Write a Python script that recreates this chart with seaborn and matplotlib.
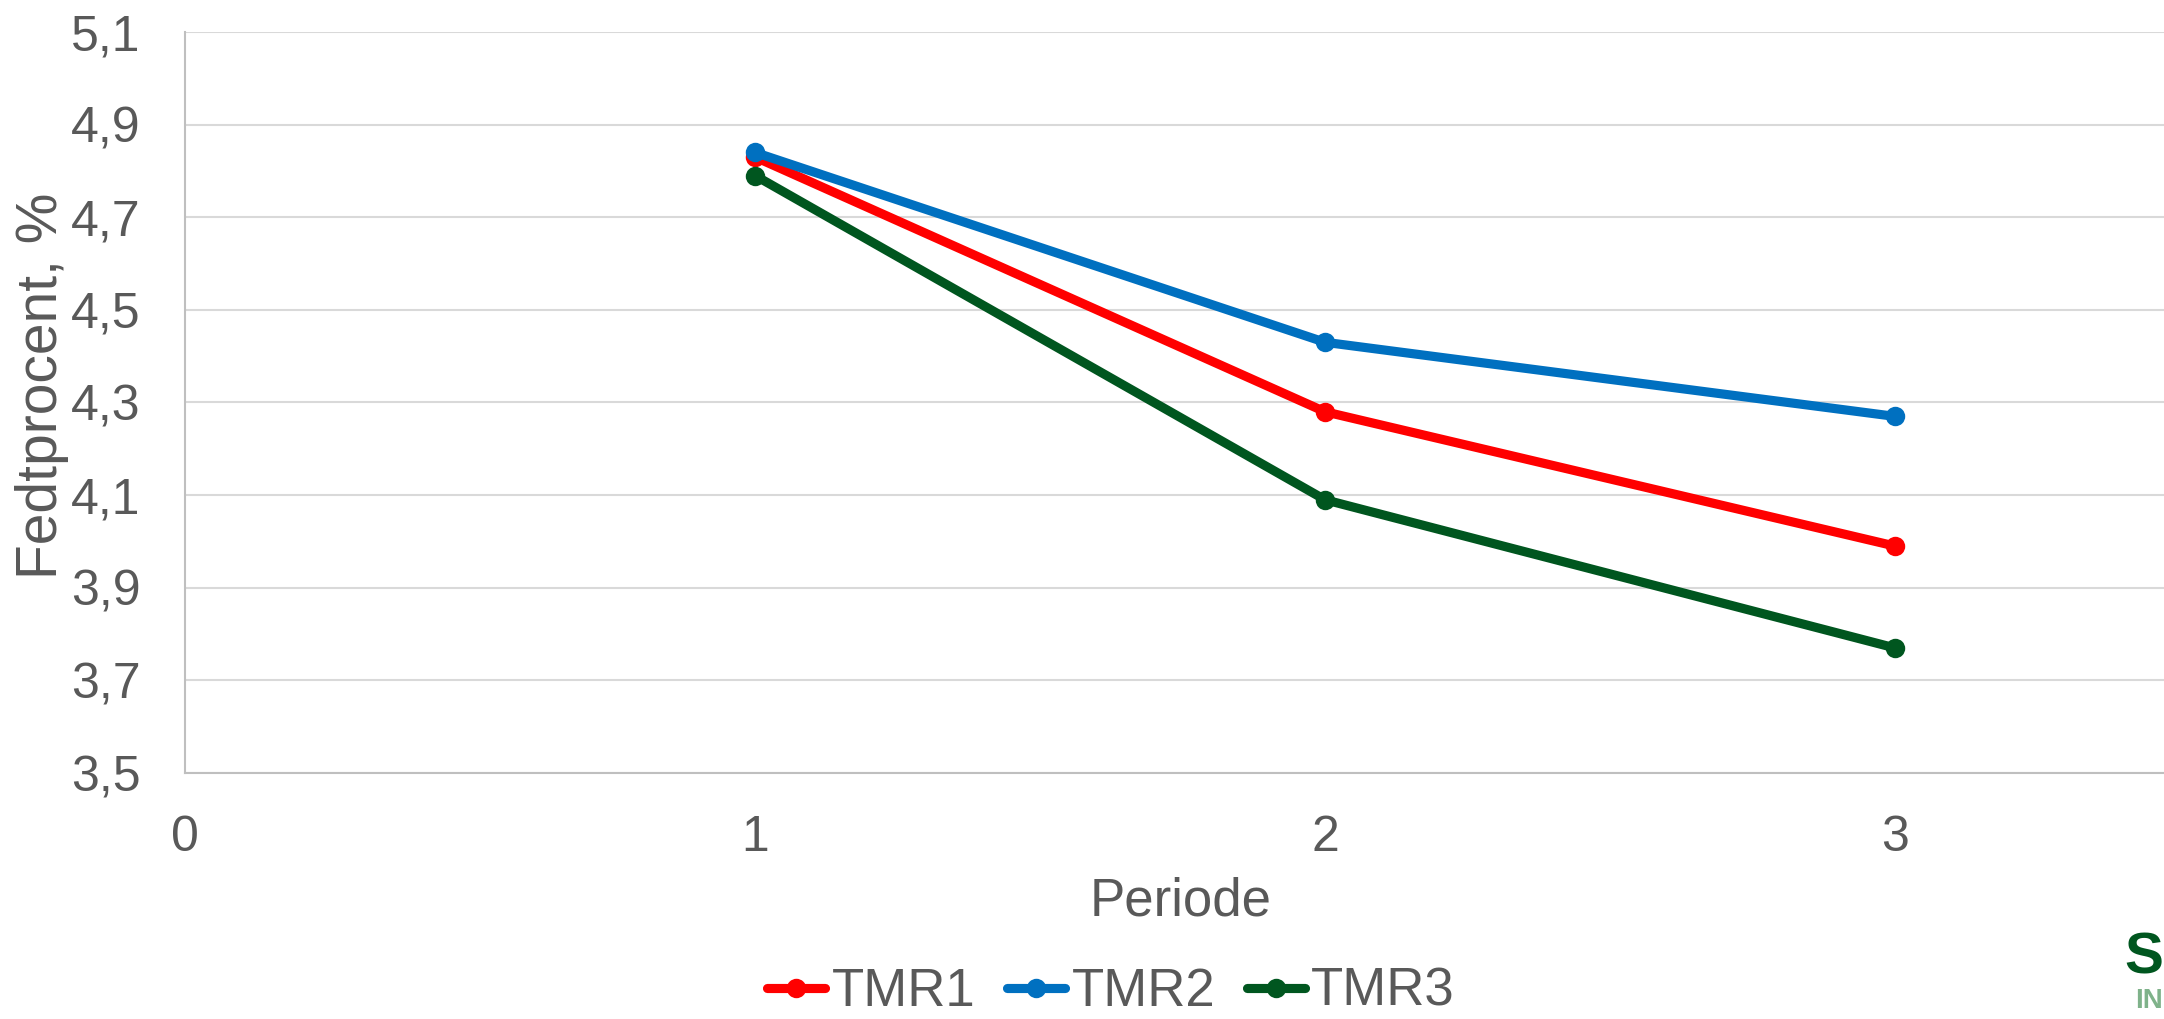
import numpy as np
import pandas as pd
import matplotlib
matplotlib.use("Agg")
import matplotlib.pyplot as plt
import seaborn as sns
from matplotlib.ticker import FixedLocator, FuncFormatter

# Fat percentage per period for each TMR ration
periods = [1, 2, 3]
tmr1 = [4.83, 4.28, 3.99]
tmr2 = [4.84, 4.43, 4.27]
tmr3 = [4.79, 4.09, 3.77]
series_names = ["TMR1", "TMR2", "TMR3"]
series_colors = ["#FF0000", "#0070C0", "#00561F"]
y_ticks = [3.5, 3.7, 3.9, 4.1, 4.3, 4.5, 4.7, 4.9, 5.1]
x_ticks = [0, 1, 2, 3]

df = pd.DataFrame({
    "Periode": periods * 3,
    "Fedtprocent": tmr1 + tmr2 + tmr3,
    "Serie": [n for n in series_names for _ in periods],
})

sns.set_style("white")
plt.rcParams["font.family"] = ["Liberation Sans", "DejaVu Sans"]
TEXT = "#595959"

W, H = 2164, 1019
fig = plt.figure(figsize=(W / 100, H / 100), dpi=100)
left, right, top, bottom = 185, W, 32, 773
ax = fig.add_axes([left / W, 1 - bottom / H, (right - left) / W, (bottom - top) / H])

sns.lineplot(
    data=df, x="Periode", y="Fedtprocent", hue="Serie",
    palette=dict(zip(series_names, series_colors)),
    marker="o", markersize=14, markeredgewidth=0,
    linewidth=6.6, ax=ax, legend=True,
)

unit_px = 570.0
ax.set_xlim(0, (right - left) / unit_px)
ax.set_ylim(3.5, 5.1)
ax.xaxis.set_major_locator(FixedLocator(x_ticks))
ax.yaxis.set_major_locator(FixedLocator(y_ticks))
ax.xaxis.set_major_formatter(FuncFormatter(lambda v, p: f"{v:.0f}"))
ax.yaxis.set_major_formatter(FuncFormatter(lambda v, p: f"{v:.1f}".replace(".", ",")))

ax.grid(axis="y", color="#D9D9D9", linewidth=1.5)
ax.grid(axis="x", visible=False)
ax.set_axisbelow(True)
for s in ["top", "right"]:
    ax.spines[s].set_visible(False)
for s in ["left", "bottom"]:
    ax.spines[s].set_color("#BFBFBF")
    ax.spines[s].set_linewidth(1.5)

ax.tick_params(axis="y", length=0, pad=32, labelsize=36, labelcolor=TEXT)
ax.tick_params(axis="x", length=0, pad=30, labelsize=36, labelcolor=TEXT)

ax.set_xlabel("Periode", fontsize=38, color=TEXT, va="center")
ax.xaxis.set_label_coords((1181 - left) / (right - left), (bottom - 902) / (bottom - top))
ax.set_ylabel("Fedtprocent, %", fontsize=41, color=TEXT, va="center")
ax.yaxis.set_label_coords((42 - left) / (right - left), 1 - (386 - top) / (bottom - top))

handles, labels = ax.get_legend_handles_labels()
ax.get_legend().remove()
fig.legend(
    handles, labels, loc="center", bbox_to_anchor=(1111 / W, 1 - 992 / H),
    ncol=3, frameon=False, fontsize=38, labelcolor=TEXT,
    handlelength=1.1, handletextpad=0.12, columnspacing=0.6, borderpad=0,
)

# Logo lettering at the lower right corner
fig.text(2163 / W, 1 - 958 / H, "S", fontsize=42, fontweight="bold",
         color="#00561F", ha="right", va="center")
fig.text(2163 / W, 1 - 1001 / H, "IN", fontsize=20, fontweight="bold",
         color="#7FB28A", ha="right", va="center")

fig.savefig("out.png", dpi=100, facecolor="white")
